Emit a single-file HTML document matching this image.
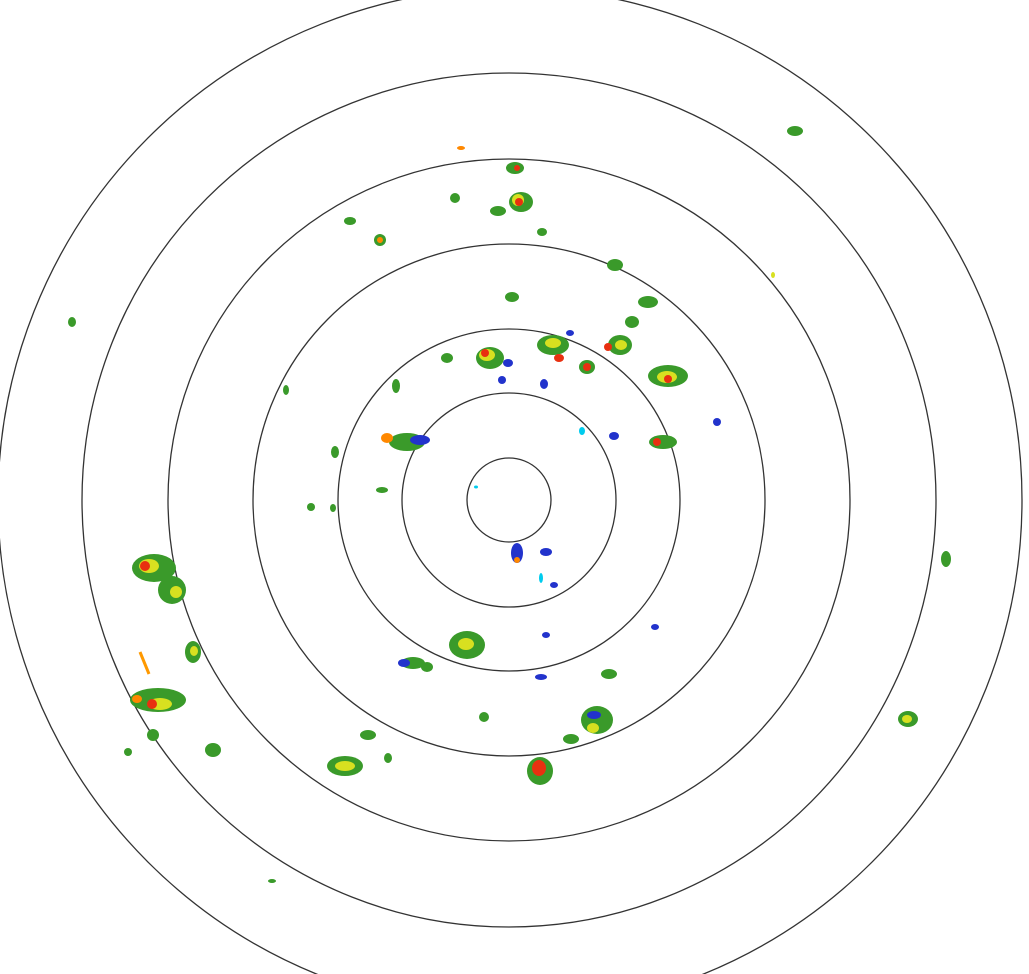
<!DOCTYPE html>
<html><head><meta charset="utf-8"><style>html,body{margin:0;padding:0;background:#fff}svg{display:block}</style></head>
<body>
<svg width="1029" height="974" viewBox="0 0 1029 974" xmlns="http://www.w3.org/2000/svg">
<g fill="none" stroke="#333" stroke-width="1.3">
<circle cx="509" cy="500" r="42"/>
<circle cx="509" cy="500" r="107"/>
<circle cx="509" cy="500" r="171"/>
<circle cx="509" cy="500" r="256"/>
<circle cx="509" cy="500" r="341"/>
<circle cx="509" cy="500" r="427"/>
<circle cx="510" cy="500" r="512"/>
</g>
<g>
<!-- green bases -->
<g fill="#3a9a2a">
<ellipse cx="515" cy="168" rx="9" ry="6"/><ellipse cx="521" cy="202" rx="12" ry="10"/><ellipse cx="498" cy="211" rx="8" ry="5"/>
<ellipse cx="455" cy="198" rx="5" ry="5"/><ellipse cx="350" cy="221" rx="6" ry="4"/><ellipse cx="380" cy="240" rx="6" ry="6"/>
<ellipse cx="542" cy="232" rx="5" ry="4"/><ellipse cx="615" cy="265" rx="8" ry="6"/><ellipse cx="795" cy="131" rx="8" ry="5"/>
<ellipse cx="72" cy="322" rx="4" ry="5"/><ellipse cx="512" cy="297" rx="7" ry="5"/><ellipse cx="648" cy="302" rx="10" ry="6"/>
<ellipse cx="490" cy="358" rx="14" ry="11"/><ellipse cx="553" cy="345" rx="16" ry="10"/><ellipse cx="587" cy="367" rx="8" ry="7"/>
<ellipse cx="620" cy="345" rx="12" ry="10"/><ellipse cx="668" cy="376" rx="20" ry="11"/><ellipse cx="632" cy="322" rx="7" ry="6"/>
<ellipse cx="447" cy="358" rx="6" ry="5"/><ellipse cx="396" cy="386" rx="4" ry="7"/><ellipse cx="407" cy="442" rx="18" ry="9"/>
<ellipse cx="663" cy="442" rx="14" ry="7"/><ellipse cx="335" cy="452" rx="4" ry="6"/><ellipse cx="382" cy="490" rx="6" ry="3"/>
<ellipse cx="154" cy="568" rx="22" ry="14"/><ellipse cx="172" cy="590" rx="14" ry="14"/><ellipse cx="193" cy="652" rx="8" ry="11"/>
<ellipse cx="158" cy="700" rx="28" ry="12"/><ellipse cx="153" cy="735" rx="6" ry="6"/><ellipse cx="213" cy="750" rx="8" ry="7"/>
<ellipse cx="467" cy="645" rx="18" ry="14"/><ellipse cx="413" cy="663" rx="12" ry="6"/><ellipse cx="427" cy="667" rx="6" ry="5"/>
<ellipse cx="345" cy="766" rx="18" ry="10"/><ellipse cx="368" cy="735" rx="8" ry="5"/><ellipse cx="388" cy="758" rx="4" ry="5"/>
<ellipse cx="540" cy="771" rx="13" ry="14"/><ellipse cx="597" cy="720" rx="16" ry="14"/><ellipse cx="571" cy="739" rx="8" ry="5"/>
<ellipse cx="609" cy="674" rx="8" ry="5"/><ellipse cx="908" cy="719" rx="10" ry="8"/><ellipse cx="946" cy="559" rx="5" ry="8"/>
<ellipse cx="484" cy="717" rx="5" ry="5"/><ellipse cx="128" cy="752" rx="4" ry="4"/><ellipse cx="272" cy="881" rx="4" ry="2"/>
<ellipse cx="286" cy="390" rx="3" ry="5"/><ellipse cx="311" cy="507" rx="4" ry="4"/><ellipse cx="333" cy="508" rx="3" ry="4"/>
</g>
<!-- blue -->
<g fill="#2233cc">
<ellipse cx="517" cy="553" rx="6" ry="10"/><ellipse cx="546" cy="552" rx="6" ry="4"/><ellipse cx="554" cy="585" rx="4" ry="3"/>
<ellipse cx="570" cy="333" rx="4" ry="3"/><ellipse cx="502" cy="380" rx="4" ry="4"/><ellipse cx="420" cy="440" rx="10" ry="5"/>
<ellipse cx="614" cy="436" rx="5" ry="4"/><ellipse cx="541" cy="677" rx="6" ry="3"/><ellipse cx="546" cy="635" rx="4" ry="3"/>
<ellipse cx="655" cy="627" rx="4" ry="3"/><ellipse cx="594" cy="715" rx="7" ry="4"/><ellipse cx="717" cy="422" rx="4" ry="4"/>
<ellipse cx="404" cy="663" rx="6" ry="4"/><ellipse cx="508" cy="363" rx="5" ry="4"/><ellipse cx="544" cy="384" rx="4" ry="5"/>
</g>
<g fill="#00ccee"><ellipse cx="541" cy="578" rx="2" ry="5"/><ellipse cx="582" cy="431" rx="3" ry="4"/><ellipse cx="476" cy="487" rx="2" ry="1.5"/></g>
<!-- yellow -->
<g fill="#d8e020">
<ellipse cx="518" cy="200" rx="6" ry="6"/><ellipse cx="487" cy="355" rx="8" ry="6"/><ellipse cx="553" cy="343" rx="8" ry="5"/>
<ellipse cx="667" cy="377" rx="10" ry="6"/><ellipse cx="621" cy="345" rx="6" ry="5"/><ellipse cx="149" cy="566" rx="10" ry="7"/>
<ellipse cx="160" cy="704" rx="12" ry="6"/><ellipse cx="466" cy="644" rx="8" ry="6"/><ellipse cx="345" cy="766" rx="10" ry="5"/>
<ellipse cx="593" cy="728" rx="6" ry="5"/><ellipse cx="907" cy="719" rx="5" ry="4"/><ellipse cx="176" cy="592" rx="6" ry="6"/>
<ellipse cx="194" cy="651" rx="4" ry="5"/><ellipse cx="773" cy="275" rx="2" ry="3"/>
</g>
<!-- red/orange -->
<g fill="#e83010">
<ellipse cx="519" cy="202" rx="4" ry="4"/><ellipse cx="485" cy="353" rx="4" ry="4"/><ellipse cx="559" cy="358" rx="5" ry="4"/>
<ellipse cx="587" cy="367" rx="4" ry="4"/><ellipse cx="668" cy="379" rx="4" ry="4"/><ellipse cx="657" cy="442" rx="4" ry="4"/>
<ellipse cx="145" cy="566" rx="5" ry="5"/><ellipse cx="539" cy="768" rx="7" ry="8"/><ellipse cx="152" cy="704" rx="5" ry="5"/>
<ellipse cx="608" cy="347" rx="4" ry="4"/><ellipse cx="517" cy="168" rx="3" ry="3"/>
</g>
<g fill="#ff8800">
<ellipse cx="387" cy="438" rx="6" ry="5"/><ellipse cx="137" cy="699" rx="5" ry="4"/><ellipse cx="461" cy="148" rx="4" ry="2"/>
<ellipse cx="517" cy="560" rx="3" ry="3"/><ellipse cx="380" cy="240" rx="3" ry="3"/>
</g>
<line x1="140" y1="652" x2="149" y2="674" stroke="#ff9900" stroke-width="3"/>
</g>
</svg>
</body></html>
